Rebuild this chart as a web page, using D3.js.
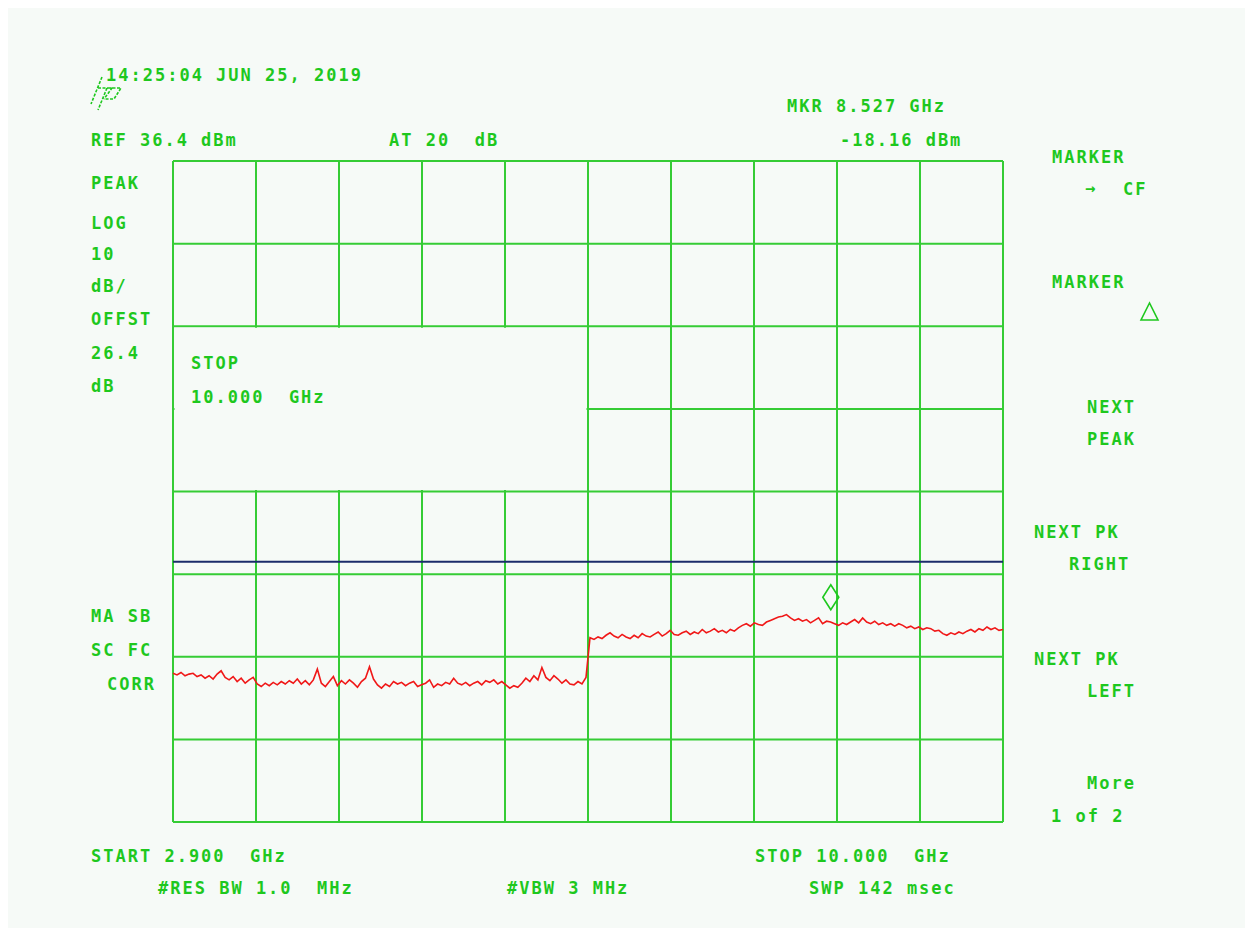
<!DOCTYPE html>
<html>
<head>
<meta charset="utf-8">
<script src="https://cdn.jsdelivr.net/npm/d3@7"></script>
<style>
  body { margin: 0; background: #ffffff; }
  svg text { font-family: "DejaVu Sans Mono", monospace; font-weight: bold; font-size: 17px; letter-spacing: 2px; fill: #1ec81e; white-space: pre; }
</style>
</head>
<body>
<div id="screen"></div>
<script>
var startGHz = 2.9, stopGHz = 10.0
var refLevel = 36.4, dbPerDiv = 10, divisions = 8, freqDivisions = 10
var markerGHz = 8.527, markerDbm = -18.16
var displayLine = -12.1

// trace amplitude (dBm), 208 evenly spaced points from start to stop
var traceLow = [
  -25.6,-25.8,-25.5,-25.9,-25.7,-25.6,-26.0,-25.8,-26.2,-25.9,
  -26.3,-25.7,-25.3,-26.1,-26.4,-26.0,-26.6,-26.2,-26.8,-26.4,
  -26.1,-26.9,-27.2,-26.8,-27.1,-26.7,-27.0,-26.6,-26.9,-26.5,
  -26.8,-26.3,-26.9,-26.5,-27.0,-26.4,-25.1,-26.8,-27.2,-26.6,
  -26.0,-27.1,-26.5,-26.9,-26.4,-26.8,-27.3,-26.6,-26.2,-24.8,
  -26.3,-27.0,-27.4,-26.9,-27.2,-26.6,-26.9,-26.7,-27.1,-26.8,
  -26.6,-27.2,-27.0,-26.8,-26.4,-27.3,-26.9,-27.1,-26.7,-26.9,
  -26.2,-26.8,-27.0,-26.7,-27.1,-26.8,-26.6,-27.0,-26.5,-26.7,
  -26.4,-26.9,-26.6,-27.0,-27.4,-27.1,-27.3,-26.8,-26.2,-26.6,
  -25.9,-26.4,-24.9,-26.1,-26.5,-25.9,-26.3,-26.8,-26.4,-26.9,
  -27.0,-26.6,-26.9,-26.1
]
var traceHigh = [
  -21.3,-21.5,-21.2,-21.4,-21.0,-20.7,
  -21.1,-21.3,-20.9,-21.2,-21.4,-21.0,-21.3,-20.8,-21.1,-21.2,
  -20.9,-20.6,-21.1,-20.8,-20.4,-20.9,-21.0,-20.7,-20.5,-20.9,
  -20.6,-20.8,-20.3,-20.7,-20.5,-20.2,-20.6,-20.4,-20.7,-20.3,
  -20.5,-20.1,-19.8,-19.6,-19.9,-19.5,-19.7,-19.8,-19.4,-19.2,
  -19.0,-18.8,-18.7,-18.5,-18.9,-19.2,-19.0,-19.3,-19.1,-19.5,
  -19.2,-18.9,-19.6,-19.3,-19.4,-19.6,-19.8,-19.5,-19.7,-19.4,
  -19.1,-19.5,-18.9,-19.4,-19.6,-19.3,-19.7,-19.5,-19.8,-19.6,
  -19.9,-19.6,-19.8,-20.1,-19.9,-20.2,-20.0,-20.3,-20.1,-20.2,
  -20.5,-20.4,-20.8,-21.0,-20.7,-20.9,-20.6,-20.8,-20.5,-20.3,
  -20.6,-20.2,-20.4,-20.0,-20.3,-20.1,-20.4,-20.3
]
var trace = traceLow.concat(traceHigh)

var headerLabels = [
  {t: "14:25:04 JUN 25, 2019", x: 106, y: 81},
  {t: "REF 36.4 dBm", x: 91, y: 146},
  {t: "AT 20  dB", x: 389, y: 146},
  {t: "MKR 8.527 GHz", x: 787, y: 112},
  {t: "-18.16 dBm", x: 840, y: 146}
]
var leftLabels = [
  {t: "PEAK", x: 91, y: 189}, {t: "LOG", x: 91, y: 229}, {t: "10", x: 91, y: 260},
  {t: "dB/", x: 91, y: 292}, {t: "OFFST", x: 91, y: 325}, {t: "26.4", x: 91, y: 359},
  {t: "dB", x: 91, y: 392},
  {t: "MA SB", x: 91, y: 622}, {t: "SC FC", x: 91, y: 656}, {t: "CORR", x: 107, y: 690}
]
var softkeyLabels = [
  {t: "MARKER", x: 1052, y: 163}, {t: "→", x: 1085, y: 194}, {t: "CF", x: 1123, y: 195},
  {t: "MARKER", x: 1052, y: 288},
  {t: "NEXT", x: 1087, y: 413}, {t: "PEAK", x: 1087, y: 445},
  {t: "NEXT PK", x: 1034, y: 538}, {t: "RIGHT", x: 1069, y: 570},
  {t: "NEXT PK", x: 1034, y: 665}, {t: "LEFT", x: 1087, y: 697},
  {t: "More", x: 1087, y: 789}, {t: "1 of 2", x: 1051, y: 822}
]
var footerLabels = [
  {t: "START 2.900  GHz", x: 91, y: 862},
  {t: "STOP 10.000  GHz", x: 755, y: 862},
  {t: "#RES BW 1.0  MHz", x: 158, y: 894},
  {t: "#VBW 3 MHz", x: 507, y: 894},
  {t: "SWP 142 msec", x: 809, y: 894}
]
var entryLabels = [
  {t: "STOP", x: 191, y: 369},
  {t: "10.000  GHz", x: 191, y: 403}
]

var width = 1252, height = 934
var bg = "#f6faf7", green = "#1ec81e", gridColor = "#35cc35"

var svg = d3.select("#screen").append("svg")
  .attr("width", width).attr("height", height)
  .attr("viewBox", [0, 0, width, height])

svg.append("rect").attr("x", 8).attr("y", 8).attr("width", 1237).attr("height", 920).attr("fill", bg)

var x = d3.scaleLinear().domain([startGHz, stopGHz]).range([173, 1003])
var y = d3.scaleLinear().domain([refLevel, refLevel - dbPerDiv * divisions]).range([161, 822])

var freqTicks = d3.range(freqDivisions + 1).map(function(i){ return startGHz + i * (stopGHz - startGHz) / freqDivisions })
var dbTicks = d3.range(divisions + 1).map(function(i){ return refLevel - i * dbPerDiv })

var grid = svg.append("g").attr("stroke", gridColor).attr("stroke-width", 2)
grid.selectAll("line.v").data(freqTicks).enter().append("line")
  .attr("class", "v")
  .attr("x1", function(d){ return x(d) }).attr("x2", function(d){ return x(d) })
  .attr("y1", y(refLevel)).attr("y2", y(refLevel - dbPerDiv * divisions))
grid.selectAll("line.h").data(dbTicks).enter().append("line")
  .attr("class", "h")
  .attr("x1", x(startGHz)).attr("x2", x(stopGHz))
  .attr("y1", function(d){ return y(d) }).attr("y2", function(d){ return y(d) })

// entry box blanks part of the graticule
svg.append("rect")
  .attr("x", x(freqTicks[0]) + 1.5).attr("y", y(dbTicks[2]) + 1.5)
  .attr("width", x(freqTicks[5]) - x(freqTicks[0]) - 3)
  .attr("height", y(dbTicks[4]) - y(dbTicks[2]) - 3)
  .attr("fill", bg)

svg.append("line")
  .attr("x1", x(startGHz)).attr("x2", x(stopGHz))
  .attr("y1", y(displayLine)).attr("y2", y(displayLine))
  .attr("stroke", "#1b2c6a").attr("stroke-width", 2)

var step = (stopGHz - startGHz) / (trace.length - 1)
var line = d3.line()
  .x(function(d, i){ return x(startGHz + i * step) })
  .y(function(d){ return y(d) })

svg.append("path").datum(trace)
  .attr("d", line)
  .attr("fill", "none").attr("stroke", "#f01818").attr("stroke-width", 1.6)

// marker diamond
var mx = x(markerGHz), my = y(markerDbm) - 2
svg.append("path")
  .attr("d", `M${mx},${my} L${mx - 8},${my - 12.5} L${mx},${my - 25} L${mx + 8},${my - 12.5} Z`)
  .attr("fill", "none").attr("stroke", green).attr("stroke-width", 1.6)

// delta triangle on the softkey
svg.append("path")
  .attr("d", "M1149.5,303 L1141,320 L1158,320 Z")
  .attr("fill", "none").attr("stroke", green).attr("stroke-width", 1.6)

// hp logo
svg.append("path")
  .attr("d", "M102,77 L91,104 M98,88 L112,88 L104,99 M107,88 L98,110 M108,88 L121,88 L114,99 L104,99")
  .attr("fill", "none").attr("stroke", green).attr("stroke-width", 1.6)
  .attr("stroke-dasharray", "3,1.5")

var labels = headerLabels.concat(leftLabels, softkeyLabels, footerLabels, entryLabels)
svg.append("g").selectAll("text").data(labels).enter().append("text")
  .attr("x", function(d){ return d.x })
  .attr("y", function(d){ return d.y })
  .text(function(d){ return d.t })
</script>
</body>
</html>
